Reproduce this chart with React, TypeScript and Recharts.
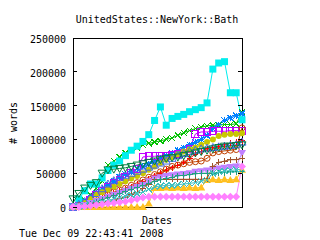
import React from "react";
import { LineChart, Line, XAxis, YAxis, ReferenceArea } from "recharts";

// ---- data ----
const dateIndex = Array.from({ length: 30 }, (_, i) => i);
const yTicks = [0, 50000, 100000, 150000, 200000, 250000];

const redPlus = [0, 1000, 3000, 6000, 10000, 14000, 18000, 21000, 24000, 27000, 30000, 34000, 37000, 41000, 46000, 50000, 54000, 58000, 62000, 66000, 72000, 78000, 82000, 86000, 88000, 90000, 92000, 94000, 96000, 98000];
const greenX = [0, 4000, 10000, 18000, 28000, 38000, 62000, 68000, 74000, 80000, 84000, 88000, 92000, 94000, 96000, 98000, 100000, 102000, 106000, 110000, 113000, 116000, 118000, 120000, 121000, 121000, 122000, 122000, 123000, 140000];
const blueStar = [0, 3000, 8000, 14000, 20000, 26000, 32000, 38000, 44000, 48000, 52000, 56000, 60000, 64000, 68000, 72000, 76000, 80000, 84000, 88000, 92000, 96000, 100000, 106000, 116000, 122000, 128000, 132000, 135000, 138000];
const magentaSquare = [0, 2000, 5000, 10000, 18000, 24000, 30000, 36000, 40000, 44000, 50000, 56000, 74000, 75000, 75000, 76000, 76000, 77000, 78000, 80000, 86000, 108000, 111000, 111000, 112000, 112000, 112000, 113000, 113000, 113000];
const cyanSquare = [0, 12000, 24000, 34000, 34000, 43000, 54000, 62000, 68000, 76000, 84000, 90000, 97000, 107000, 128000, 148000, 121000, 131000, 134000, 137000, 141000, 144000, 147000, 154000, 204000, 213000, 215000, 169000, 169000, 129000];
const brownCircle = [0, 2000, 5000, 8000, 12000, 15000, 18000, 22000, 25000, 28000, 32000, 36000, 40000, 44000, 48000, 52000, 56000, 60000, 62000, 64000, 66000, 67000, 68000, 72000, 80000, 82000, 83000, 84000, 85000, 117000];
const yellowCircle = [0, 2000, 6000, 12000, 18000, 22000, 26000, 30000, 34000, 38000, 42000, 46000, 50000, 55000, 60000, 65000, 70000, 74000, 78000, 82000, 85000, 88000, 92000, 96000, 100000, 105000, 107000, 108000, 108000, 109000];
const royalTriUp = [0, 4000, 8000, 14000, 20000, 27000, 34000, 39000, 44000, 47000, 50000, 53000, 56000, 59000, 62000, 65000, 68000, 72000, 76000, 79000, 82000, 84000, 86000, 87000, 88000, 89000, 90000, 91000, 92000, 96000];
const orangeTri = [0, 0, 0, 0, 0, 0, 0, 0, 0, 0, 0, 0, 0, 5000, 28000, 28000, 29000, 28000, 29000, 28000, 29000, 28000, 29000, 40000, 41000, 40000, 41000, 40000, 41000, 55000];
const darkGreenTriDown = [12000, 20000, 28000, 32000, 36000, 50000, 55000, 56000, 57000, 58000, 60000, 62000, 64000, 66000, 68000, 70000, 72000, 73000, 74000, 76000, 78000, 80000, 82000, 84000, 86000, 88000, 90000, 90000, 91000, 92000];
const lavenderTri = [0, 1000, 3000, 6000, 9000, 12000, 15000, 18000, 21000, 24000, 27000, 30000, 33000, 38000, 42000, 44000, 46000, 47000, 48000, 49000, 50000, 52000, 53000, 54000, 56000, 57000, 58000, 59000, 60000, 80000];
const pinkDiamond = [0, 0, 1000, 2000, 3000, 4000, 5000, 6000, 7000, 8000, 10000, 12000, 14000, 15000, 15000, 15000, 15000, 15000, 15000, 15000, 15000, 15000, 15000, 15000, 15000, 15000, 15000, 15000, 15000, 60000];
const turquoiseDiamond = [0, 1000, 2000, 4000, 6000, 8000, 10000, 12000, 14000, 16000, 18000, 20000, 22000, 26000, 30000, 31000, 32000, 32000, 33000, 34000, 35000, 36000, 38000, 40000, 50000, 52000, 53000, 54000, 55000, 56000];
const siennaPlus = [0, 0, 1000, 2000, 4000, 6000, 8000, 10000, 12000, 14000, 18000, 22000, 28000, 34000, 40000, 41000, 41000, 41000, 41000, 41000, 41000, 41000, 41000, 42000, 60000, 66000, 68000, 70000, 70000, 72000];
const tealPlus = [0, 1000, 3000, 5000, 8000, 11000, 14000, 17000, 20000, 23000, 26000, 29000, 32000, 35000, 38000, 40000, 42000, 44000, 46000, 47000, 48000, 49000, 50000, 50000, 50000, 51000, 51000, 52000, 52000, 53000];

const seriesData: Record<string, number[]> = {
  redPlus, greenX, blueStar, magentaSquare, cyanSquare, brownCircle, yellowCircle,
  royalTriUp, orangeTri, darkGreenTriDown, lavenderTri, siennaPlus, tealPlus,
  turquoiseDiamond, pinkDiamond,
};

const seriesStyle = [
  { key: "redPlus", color: "#ff0000", shape: "plus" },
  { key: "greenX", color: "#00c000", shape: "x" },
  { key: "blueStar", color: "#0080ff", shape: "star" },
  { key: "magentaSquare", color: "#c000ff", shape: "squareOpen" },
  { key: "cyanSquare", color: "#00eeee", shape: "squareFilled" },
  { key: "brownCircle", color: "#c04000", shape: "circleOpen" },
  { key: "yellowCircle", color: "#c8c800", shape: "circleFilled" },
  { key: "royalTriUp", color: "#4169e1", shape: "triUpOpen" },
  { key: "orangeTri", color: "#ffc020", shape: "triUpFilled" },
  { key: "darkGreenTriDown", color: "#008040", shape: "triDownOpen" },
  { key: "lavenderTri", color: "#c080ff", shape: "triDownFilled" },
  { key: "siennaPlus", color: "#a0522d", shape: "plus" },
  { key: "tealPlus", color: "#20a080", shape: "plus" },
  { key: "turquoiseDiamond", color: "#40c0c0", shape: "x" },
  { key: "pinkDiamond", color: "#ff80ff", shape: "diamondFilled" },
];

const rows = dateIndex.map((i) => {
  const r: Record<string, number> = { i };
  for (const k of Object.keys(seriesData)) r[k] = seriesData[k][i];
  return r;
});

// ---- layout ----
const W = 320;
const H = 240;
const PLOT_LEFT = 73;
const PLOT_RIGHT = 242;
const PLOT_TOP = 38;
const PLOT_BOTTOM = 207;
const FONT = "'DejaVu Sans Mono', monospace";

function Marker({ cx, cy, shape, color }: any) {
  if (cx == null || cy == null || isNaN(cx) || isNaN(cy)) return <g />;
  const s = 3;
  const common = { stroke: color, strokeWidth: 1, shapeRendering: "crispEdges" } as any;
  switch (shape) {
    case "plus":
      return <path d={`M${cx - s},${cy}H${cx + s}M${cx},${cy - s}V${cy + s}`} {...common} fill="none" />;
    case "x":
      return <path d={`M${cx - s},${cy - s}L${cx + s},${cy + s}M${cx - s},${cy + s}L${cx + s},${cy - s}`} {...common} fill="none" />;
    case "star":
      return <path d={`M${cx - s},${cy}H${cx + s}M${cx},${cy - s}V${cy + s}M${cx - s},${cy - s}L${cx + s},${cy + s}M${cx - s},${cy + s}L${cx + s},${cy - s}`} {...common} fill="none" />;
    case "squareOpen":
      return <rect x={cx - 3.5} y={cy - 3.5} width={7} height={7} {...common} fill="none" />;
    case "squareFilled":
      return <rect x={cx - 3.5} y={cy - 3.5} width={7} height={7} fill={color} stroke="none" />;
    case "circleOpen":
      return <circle cx={cx} cy={cy} r={3} stroke={color} fill="none" />;
    case "circleFilled":
      return <circle cx={cx} cy={cy} r={3} fill={color} stroke="none" />;
    case "triUpOpen":
      return <path d={`M${cx},${cy - 4}L${cx + 4},${cy + 3}L${cx - 4},${cy + 3}Z`} stroke={color} fill="none" />;
    case "triUpFilled":
      return <path d={`M${cx},${cy - 4}L${cx + 4},${cy + 3}L${cx - 4},${cy + 3}Z`} fill={color} stroke="none" />;
    case "triDownOpen":
      return <path d={`M${cx},${cy + 4}L${cx + 4},${cy - 3}L${cx - 4},${cy - 3}Z`} stroke={color} fill="none" />;
    case "triDownFilled":
      return <path d={`M${cx},${cy + 4}L${cx + 4},${cy - 3}L${cx - 4},${cy - 3}Z`} fill={color} stroke="none" />;
    case "diamondFilled":
      return <path d={`M${cx},${cy - 4}L${cx + 4},${cy}L${cx},${cy + 4}L${cx - 4},${cy}Z`} fill={color} stroke="none" />;
    default:
      return <g />;
  }
}

const YTick = (props: any) => {
  const { y, payload } = props;
  return (
    <g>
      <text x={PLOT_LEFT - 7} y={y} dy={5} textAnchor="end" fontFamily={FONT} fontSize={10} fill="#000">
        {payload.value}
      </text>
      <line x1={PLOT_LEFT} x2={PLOT_LEFT + 4} y1={y} y2={y} stroke="#000" shapeRendering="crispEdges" />
      <line x1={PLOT_RIGHT - 4} x2={PLOT_RIGHT} y1={y} y2={y} stroke="#000" shapeRendering="crispEdges" />
    </g>
  );
};

export default function App() {
  return (
    <div style={{ position: "absolute", left: 0, top: 0, width: W, height: H, background: "#fff" }}>
      <style>{"body{margin:0;background:#fff}"}</style>
      <LineChart
        width={W}
        height={H}
        data={rows}
        margin={{ top: PLOT_TOP, right: W - PLOT_RIGHT, bottom: H - PLOT_BOTTOM, left: 0 }}
      >
        <XAxis dataKey="i" type="number" domain={[0, 29]} hide />
        <YAxis
          type="number"
          domain={[0, 250000]}
          ticks={yTicks}
          interval={0}
          width={PLOT_LEFT}
          axisLine={false}
          tickLine={false}
          tickSize={0}
          tickMargin={7}
          tick={<YTick />}
        />
        <ReferenceArea x1={0} x2={29} y1={0} y2={250000} fill="none" stroke="#000" strokeWidth={1} ifOverflow="visible" shapeRendering="crispEdges" />
        {seriesStyle.map((s) => (
          <Line
            key={s.key}
            dataKey={s.key}
            type="linear"
            stroke={s.color}
            strokeWidth={1}
            isAnimationActive={false}
            dot={(p: any) => (
              <g key={`${s.key}-${p.index}`}>
                <Marker cx={p.cx} cy={p.cy} shape={s.shape} color={s.color} />
              </g>
            )}
            activeDot={false}
          />
        ))}
      </LineChart>
      <svg width={W} height={H} style={{ position: "absolute", left: 0, top: 0, pointerEvents: "none" }}>
        <text x={157} y={23} textAnchor="middle" fontFamily={FONT} fontSize={10} fill="#000">
          UnitedStates::NewYork::Bath
        </text>
        <text x={157} y={224} textAnchor="middle" fontFamily={FONT} fontSize={10} fill="#000">
          Dates
        </text>
        <text x={17} y={123} textAnchor="middle" fontFamily={FONT} fontSize={10} fill="#000" transform="rotate(-90 17 123)">
          # words
        </text>
        <text x={19} y={237} fontFamily={FONT} fontSize={10} fill="#000">
          Tue Dec 09 22:43:41 2008
        </text>
      </svg>
    </div>
  );
}
